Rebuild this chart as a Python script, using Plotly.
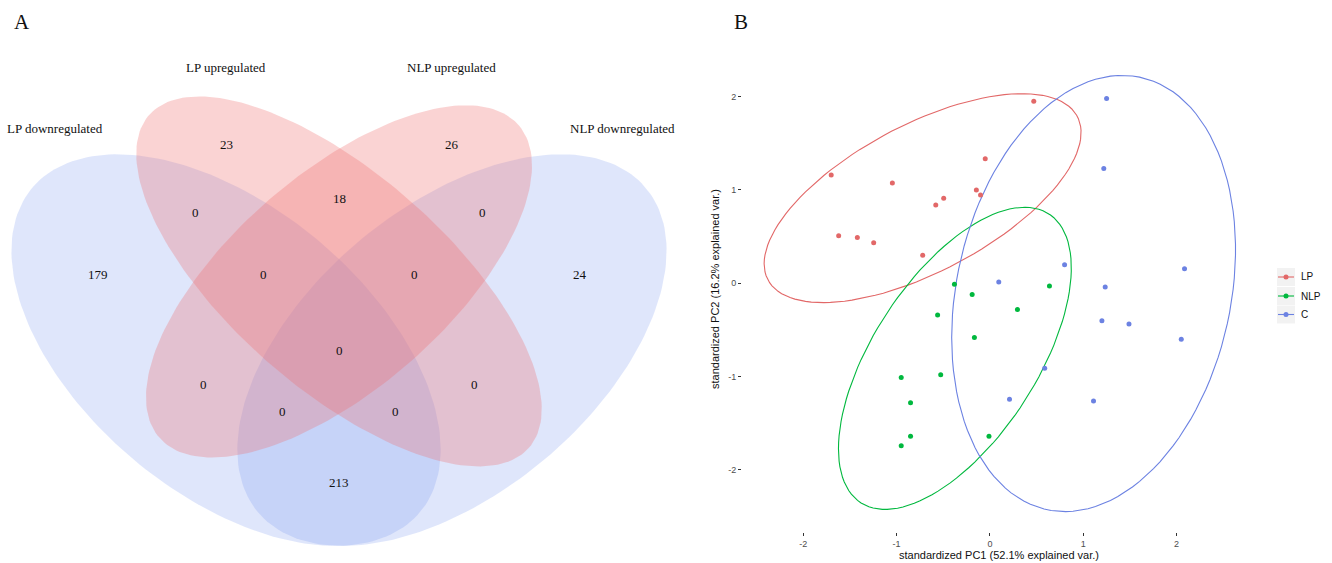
import numpy as np
import plotly.graph_objects as go

W, H = 1332, 563

# ---------------- Panel A : Venn diagram data ----------------
set_names = ["LP downregulated", "LP upregulated", "NLP upregulated", "NLP downregulated"]
region_counts = [23, 26, 18, 0, 0, 0, 0, 179, 24, 0, 0, 0, 0, 0, 213]
region_u = [0.35, 0.65, 0.50, 0.31, 0.69, 0.40, 0.60, 0.18, 0.82, 0.50, 0.32, 0.68, 0.425, 0.575, 0.50]
region_v = [0.77, 0.77, 0.69, 0.67, 0.67, 0.58, 0.58, 0.58, 0.58, 0.47, 0.42, 0.42, 0.38, 0.38, 0.277]
set_label_u = [0.123, 0.35, 0.65, 0.876]
set_label_v = [0.793, 0.881, 0.881, 0.793]
# VennDiagram quad layout: centre x, centre y, semi-axes a, b, rotation (deg)
ell_cx = [0.35, 0.50, 0.50, 0.65]
ell_cy = [0.47, 0.57, 0.57, 0.47]
ell_a = [0.35, 0.35, 0.33, 0.35]
ell_b = [0.20, 0.15, 0.15, 0.20]
ell_rot = [135, 135, 45, 45]
ell_fill = ["rgba(120,150,240,0.24)", "rgba(240,110,110,0.30)",
            "rgba(240,110,110,0.30)", "rgba(120,150,240,0.24)"]
draw_order = [3, 0, 2, 1]

# ---------------- Panel B : PCA scores ----------------
groups = ["LP", "NLP", "C"]
group_colors = ["#E26868", "#00B83E", "#6C82E2"]
lp_pc1 = [0.47, -1.70, -1.045, -0.05, -0.145, -0.10, -0.58, -0.495, -1.62, -1.42, -1.245, -0.72]
lp_pc2 = [1.95, 1.16, 1.075, 1.335, 1.00, 0.946, 0.84, 0.91, 0.51, 0.49, 0.435, 0.30]
nlp_pc1 = [-0.38, 0.638, -0.19, -0.56, 0.295, -0.166, -0.95, -0.527, -0.85, -0.85, -0.95, -0.01]
nlp_pc2 = [-0.01, -0.03, -0.12, -0.34, -0.28, -0.58, -1.01, -0.98, -1.28, -1.64, -1.74, -1.64]
c_pc1 = [1.25, 1.22, 0.80, 2.085, 1.235, 0.095, 0.587, 0.21, 1.11, 1.20, 1.49, 2.05]
c_pc2 = [1.98, 1.23, 0.20, 0.157, -0.04, 0.014, -0.91, -1.243, -1.26, -0.40, -0.436, -0.60]
pc1_values = [lp_pc1, nlp_pc1, c_pc1]
pc2_values = [lp_pc2, nlp_pc2, c_pc2]
tick_vals = [-2, -1, 0, 1, 2]
tick_text = ["-2", "-1", "0", "1", "2"]
x_title = "standardized PC1 (52.1% explained var.)"
y_title = "standardized PC2 (16.2% explained var.)"
ellipse_prob = 0.95

fig = go.Figure()

# ---- Panel A ellipses ----
t = np.linspace(0, 2 * np.pi, 200)
for i in draw_order:
    r = np.deg2rad(ell_rot[i])
    ex = ell_cx[i] + ell_a[i] * np.cos(t) * np.cos(r) - ell_b[i] * np.sin(t) * np.sin(r)
    ey = ell_cy[i] + ell_a[i] * np.cos(t) * np.sin(r) + ell_b[i] * np.sin(t) * np.cos(r)
    fig.add_trace(go.Scatter(x=ex, y=ey, mode="lines", fill="toself",
                             fillcolor=ell_fill[i], line=dict(width=0),
                             hoverinfo="skip", showlegend=False,
                             xaxis="x", yaxis="y"))

serif = "Liberation Serif"
sans = "Liberation Sans"
annotations = []
for cnt, u, v in zip(region_counts, region_u, region_v):
    annotations.append(dict(x=u, y=v, xref="x", yref="y", text=str(cnt), showarrow=False,
                            font=dict(family=serif, size=13, color="#111111")))
for name, u, v in zip(set_names, set_label_u, set_label_v):
    annotations.append(dict(x=u, y=v, xref="x", yref="y", text=name, showarrow=False,
                            font=dict(family=serif, size=13, color="#111111")))

# ---- Panel B points and ellipses ----
ed = np.sqrt(-2 * np.log(1 - ellipse_prob))
theta = np.linspace(-np.pi, np.pi, 120)
circle = np.column_stack([np.cos(theta), np.sin(theta)])
for g, col, xs, ys in zip(groups, group_colors, pc1_values, pc2_values):
    xs = np.array(xs)
    ys = np.array(ys)
    sigma = np.cov(np.vstack([xs, ys]))
    mu = np.array([xs.mean(), ys.mean()])
    L = np.linalg.cholesky(sigma)
    ell = circle @ L.T * ed + mu
    fig.add_trace(go.Scatter(x=ell[:, 0], y=ell[:, 1], mode="lines",
                             line=dict(color=col, width=1.1), hoverinfo="skip",
                             showlegend=False, xaxis="x2", yaxis="y2"))
for g, col, xs, ys in zip(groups, group_colors, pc1_values, pc2_values):
    fig.add_trace(go.Scatter(x=xs, y=ys, mode="markers", name=g,
                             marker=dict(color=col, size=5, line=dict(width=0)),
                             showlegend=False, xaxis="x2", yaxis="y2"))

# pixel helpers
def px_x(p):
    return p / W

def px_y(p):
    return 1 - p / H

# Panel A axes: unit square mapped to pixels
uA0 = 0.5 + (0 - 339) / 753
uA1 = 0.5 + (700 - 339) / 753
vA0 = (673 - H) / 687
vA1 = (673 - 0) / 687

# Panel B axes
bx0, bx1, by0, by1 = 742, 1262, 532, 60
x_zero, x_scale = 989.9, 93.35
y_zero, y_scale = 283.3, 93.33
rx = [(bx0 - x_zero) / x_scale, (bx1 - x_zero) / x_scale]
ry = [(y_zero - by0) / y_scale, (y_zero - by1) / y_scale]

# ---- manual legend (ggplot style keys) ----
shapes = []
key_rows = [277, 296, 314.5]
for g, col, cy in zip(groups, group_colors, key_rows):
    shapes.append(dict(type="rect", xref="paper", yref="paper",
                       x0=px_x(1277), x1=px_x(1295), y0=px_y(cy + 9), y1=px_y(cy - 9),
                       fillcolor="#F2F2F2", line=dict(width=0), layer="below"))
    shapes.append(dict(type="line", xref="paper", yref="paper",
                       x0=px_x(1278), x1=px_x(1294), y0=px_y(cy), y1=px_y(cy),
                       line=dict(color=col, width=1.1)))
    shapes.append(dict(type="circle", xref="paper", yref="paper",
                       x0=px_x(1283.5), x1=px_x(1288.5), y0=px_y(cy + 2.5), y1=px_y(cy - 2.5),
                       fillcolor=col, line=dict(width=0)))
    annotations.append(dict(x=px_x(1299), y=px_y(cy), xref="paper", yref="paper",
                            text=g, showarrow=False, xanchor="left", yanchor="middle",
                            font=dict(family=sans, size=10, color="#111111")))

# axis titles and panel letters
annotations.append(dict(x=px_x(999), y=px_y(555), xref="paper", yref="paper", text=x_title,
                        showarrow=False, xanchor="center", yanchor="middle",
                        font=dict(family=sans, size=11, color="#111111")))
annotations.append(dict(x=px_x(715), y=px_y(289), xref="paper", yref="paper", text=y_title,
                        showarrow=False, xanchor="center", yanchor="middle", textangle=-90,
                        font=dict(family=sans, size=11, color="#111111")))
annotations.append(dict(x=px_x(22), y=px_y(22), xref="paper", yref="paper", text="A",
                        showarrow=False, xanchor="center", yanchor="middle",
                        font=dict(family=serif, size=21, color="#111111")))
annotations.append(dict(x=px_x(741), y=px_y(22), xref="paper", yref="paper", text="B",
                        showarrow=False, xanchor="center", yanchor="middle",
                        font=dict(family=serif, size=21, color="#111111")))

hidden = dict(showgrid=False, zeroline=False, showticklabels=False, showline=False, ticks="")
fig.update_layout(
    width=W, height=H,
    margin=dict(l=0, r=0, t=0, b=0),
    paper_bgcolor="white", plot_bgcolor="white",
    showlegend=False,
    xaxis=dict(domain=[0, 700 / W], range=[uA0, uA1], **hidden),
    yaxis=dict(domain=[0, 1], range=[vA0, vA1], **hidden),
    xaxis2=dict(domain=[px_x(bx0), px_x(bx1)], range=rx, anchor="y2",
                showgrid=False, zeroline=False, showline=False,
                tickvals=tick_vals, ticktext=tick_text, ticks="outside", ticklen=3,
                tickwidth=1, tickcolor="#333333",
                tickfont=dict(family=sans, size=9, color="#4D4D4D")),
    yaxis2=dict(domain=[px_y(by0), px_y(by1)], range=ry, anchor="x2",
                showgrid=False, zeroline=False, showline=False,
                tickvals=tick_vals, ticktext=tick_text, ticks="outside", ticklen=3,
                tickwidth=1, tickcolor="#333333",
                tickfont=dict(family=sans, size=9, color="#4D4D4D")),
    annotations=annotations,
    shapes=shapes,
)

fig.write_html("out.html")
